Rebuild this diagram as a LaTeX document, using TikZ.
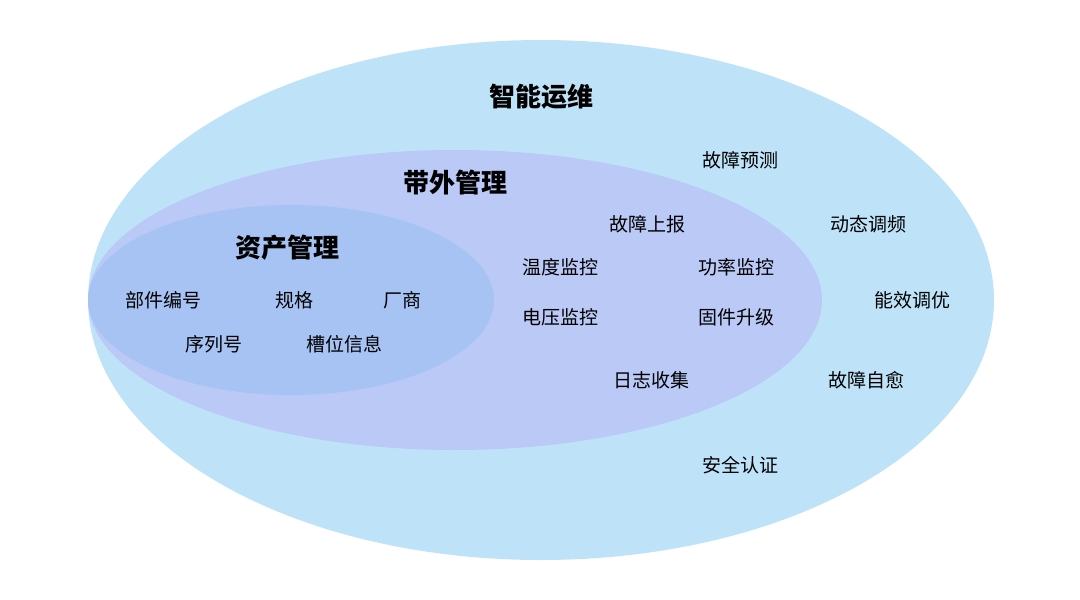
\documentclass[tikz,border=0pt]{standalone}
\usepackage{fontspec}
\setmainfont{Noto Sans CJK SC}
\definecolor{outerc}{HTML}{BEE3F8}
\definecolor{midc}{HTML}{BAC9F6}
\definecolor{innerc}{HTML}{A7C3F3}
\begin{document}
\begin{tikzpicture}[x=1pt,y=-1pt,
  title/.style={font=\fontsize{26}{28}\selectfont\bfseries,text=black},
  item/.style={font=\fontsize{19}{21}\selectfont,text=black}]
\useasboundingbox (0,0) rectangle (1080,600);
\fill[outerc] (541,300) ellipse [x radius=453, y radius=260];
\fill[midc] (455,300) ellipse [x radius=367, y radius=150];
\fill[innerc] (291,300) ellipse [x radius=203, y radius=95];
\node[title] (t1) at (541,97) {智能运维};
\node[title] (t2) at (455,183) {带外管理};
\node[title] (t3) at (287,248) {资产管理};
\node[item] (a1) at (740,160) {故障预测};
\node[item] (a2) at (647,224) {故障上报};
\node[item] (a3) at (868,224) {动态调频};
\node[item] (a4) at (560,267) {温度监控};
\node[item] (a5) at (736,267) {功率监控};
\node[item] (a6) at (163,300) {部件编号};
\node[item] (a7) at (294,300) {规格};
\node[item] (a8) at (402,300) {厂商};
\node[item] (a9) at (912,300) {能效调优};
\node[item] (a10) at (560,317) {电压监控};
\node[item] (a11) at (736,317) {固件升级};
\node[item] (a12) at (214,344) {序列号};
\node[item] (a13) at (344,344) {槽位信息};
\node[item] (a14) at (651,380) {日志收集};
\node[item] (a15) at (866,380) {故障自愈};
\node[item] (a16) at (740,465) {安全认证};
\end{tikzpicture}
\end{document}
